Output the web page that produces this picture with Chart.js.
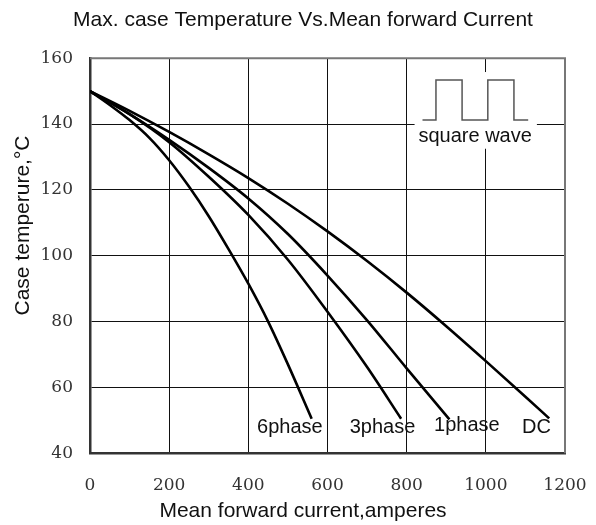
<!DOCTYPE html>
<html>
<head>
<meta charset="utf-8">
<script src="https://cdn.jsdelivr.net/npm/chart.js@4"></script>
<style>
  html, body { margin: 0; padding: 0; background: #fff; }
</style>
</head>
<body>
<canvas id="myChart" width="596" height="525"></canvas>
<script>
// Valores (corrente em A, temperatura em °C)
const seriesNames = ['6phase', '3phase', '1phase', 'DC'];

const phase6X = [0, 50, 100, 150, 200, 250, 300, 350, 400, 450, 500, 560];
const phase6Y = [150, 145.8, 141.2, 135.8, 129, 121, 112, 102, 91.5, 80, 67, 50.5];

const phase3X = [0, 100, 200, 300, 400, 500, 600, 700, 786];
const phase3Y = [150, 143, 134.5, 124, 112.4, 98.8, 83, 66.2, 50.5];

const phase1X = [0, 100, 200, 300, 400, 500, 600, 700, 800, 908];
const phase1Y = [150, 143, 135.2, 126.7, 117.4, 106.6, 94, 80.4, 65.8, 50.3];

const dcX = [0, 100, 200, 300, 400, 500, 600, 700, 800, 900, 1000, 1100, 1160];
const dcY = [150, 144, 137.6, 130.8, 123.6, 115.8, 107.4, 98.4, 88.8, 78.6, 68, 57.2, 50.6];

const xTicks = [0, 200, 400, 600, 800, 1000, 1200];
const yTicks = [40, 60, 80, 100, 120, 140, 160];

function pts(xs, ys) {
    return xs.map((x, i) => ({ x: x, y: ys[i] }));
}

const allX = [phase6X, phase3X, phase1X, dcX];
const allY = [phase6Y, phase3Y, phase1Y, dcY];

const data = {
    datasets: seriesNames.map((name, i) => ({
        label: name,
        data: pts(allX[i], allY[i]),
        borderColor: '#000',
        borderWidth: 2.6,
        pointRadius: 0,
        fill: false,
        cubicInterpolationMode: 'monotone'
    }))
};

const sansFont = '"Liberation Sans", Arial, sans-serif';
const serifFont = '"DejaVu Serif", serif';

// Quadro, onda quadrada, nomes das curvas e título do eixo y
const extras = {
    id: 'extras',
    beforeDatasetsDraw(chart) {
        const c = chart.ctx, xs = chart.scales.x, ys = chart.scales.y;
        const px = v => xs.getPixelForValue(v);
        const py = v => ys.getPixelForValue(v);
        c.save();
        // fundo branco atrás da legenda da onda
        c.fillStyle = '#fff';
        c.fillRect(px(820), py(155.8), px(1129) - px(820), py(132.5) - py(155.8));
        // onda quadrada
        c.strokeStyle = '#555';
        c.lineWidth = 1.5;
        const lo = 141.2, hi = 153.4;
        const wx = [840, 874, 940, 1005, 1071, 1107];
        c.beginPath();
        c.moveTo(px(wx[0]), py(lo));
        c.lineTo(px(wx[1]), py(lo));
        c.lineTo(px(wx[1]), py(hi));
        c.lineTo(px(wx[2]), py(hi));
        c.lineTo(px(wx[2]), py(lo));
        c.lineTo(px(wx[3]), py(lo));
        c.lineTo(px(wx[3]), py(hi));
        c.lineTo(px(wx[4]), py(hi));
        c.lineTo(px(wx[4]), py(lo));
        c.lineTo(px(wx[5]), py(lo));
        c.stroke();
        c.fillStyle = '#111';
        c.font = '20px ' + sansFont;
        c.textAlign = 'center';
        c.textBaseline = 'middle';
        c.fillText('square wave', px(973), py(136.2));
        c.restore();
    },
    afterDraw(chart) {
        const c = chart.ctx, a = chart.chartArea;
        const xs = chart.scales.x, ys = chart.scales.y;
        c.save();
        // bordas superior e direita
        c.strokeStyle = '#777';
        c.lineWidth = 2;
        c.beginPath();
        c.moveTo(a.left, a.top);
        c.lineTo(a.right, a.top);
        c.lineTo(a.right, a.bottom);
        c.stroke();
        // nomes das curvas
        c.fillStyle = '#111';
        c.font = '20px ' + sansFont;
        c.textAlign = 'center';
        c.textBaseline = 'middle';
        const lx = [505, 739, 952, 1128];
        const ly = [47.9, 47.9, 48.4, 47.9];
        seriesNames.forEach((n, i) => {
            c.fillText(n, xs.getPixelForValue(lx[i]), ys.getPixelForValue(ly[i]));
        });
        // título do eixo y
        c.translate(23.5, 225.5);
        c.rotate(-Math.PI / 2);
        c.font = '21px ' + sansFont;
        c.fillText('Case temperure,°C', 0, 0);
        c.restore();
    }
};

const options = {
    responsive: false,
    animation: false,
    devicePixelRatio: 1,
    layout: { padding: { left: 41, right: 31, top: 0, bottom: 0 } },
    plugins: {
        legend: { display: false },
        tooltip: { enabled: false },
        title: {
            display: true,
            text: 'Max. case Temperature Vs.Mean forward Current',
            color: '#111',
            font: { family: sansFont, size: 21, weight: 'normal' },
            padding: { top: 8, bottom: 25 }
        },
        subtitle: {
            display: true,
            position: 'bottom',
            text: 'Mean forward current,amperes',
            color: '#111',
            font: { family: sansFont, size: 21, weight: 'normal' },
            padding: { top: 0, bottom: 1 }
        }
    },
    scales: {
        x: {
            type: 'linear',
            min: 0,
            max: 1200,
            afterBuildTicks: s => { s.ticks = xTicks.map(v => ({ value: v })); },
            afterFit: s => {
                s.height = 45.5;
                s.paddingLeft = 0;
                s.paddingRight = 0;
            },
            grid: { color: '#111', lineWidth: 1, drawTicks: false },
            border: { color: '#333', width: 2.5 },
            ticks: {
                color: '#333',
                padding: 22.5,
                maxRotation: 0,
                callback: v => String(v),
                font: { family: serifFont, size: 17 }
            }
        },
        y: {
            min: 40,
            max: 160,
            afterBuildTicks: s => { s.ticks = yTicks.map(v => ({ value: v })); },
            afterFit: s => {
                s.width = 49;
                s.paddingTop = 0;
                s.paddingBottom = 0;
            },
            grid: { color: '#111', lineWidth: 1, drawTicks: false },
            border: { color: '#333', width: 2.5 },
            ticks: {
                color: '#333',
                padding: 17,
                callback: v => String(v),
                font: { family: serifFont, size: 17 }
            }
        }
    }
};

const ctx = document.getElementById('myChart').getContext('2d');
const myChart = new Chart(ctx, {
    type: 'line',
    data: data,
    options: options,
    plugins: [extras]
});
</script>
</body>
</html>
